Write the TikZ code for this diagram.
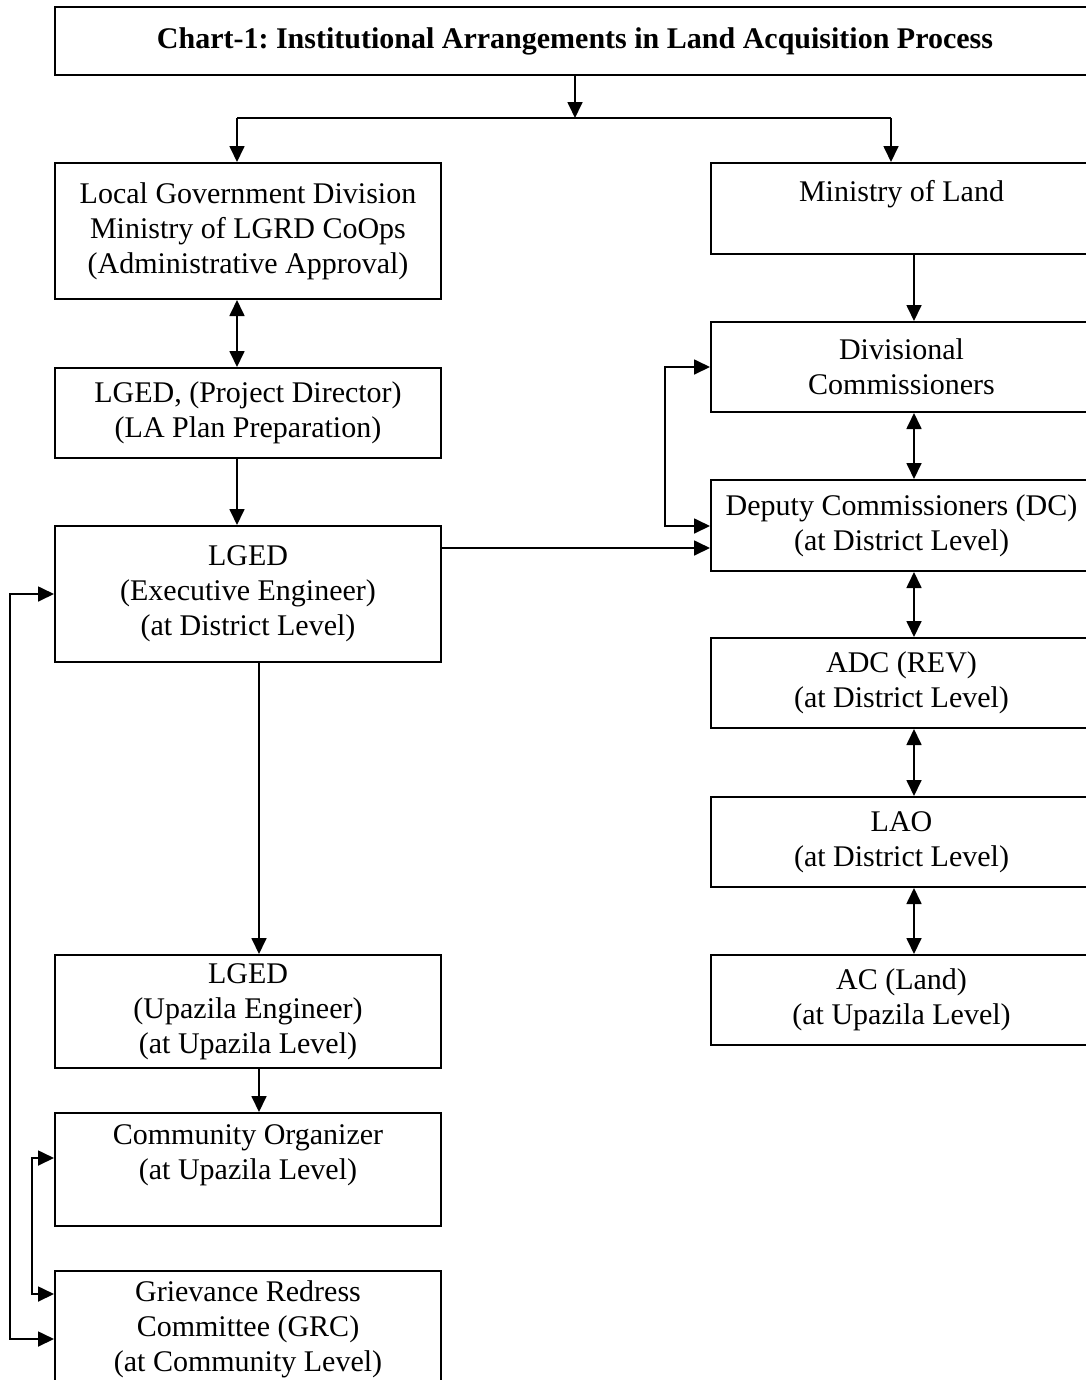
\documentclass[tikz,border=0pt]{standalone}
\usepackage{fontspec}
\setmainfont{Liberation Serif}
\usetikzlibrary{arrows.meta,calc}
\frenchspacing

\begin{document}
\begin{tikzpicture}[x=0.4pt,y=-0.4pt]
	\tikzset{box/.style={draw,line width=0.8pt,align=center,inner sep=0pt,
	    font=\fontsize{12}{14}\selectfont}}
	\tikzset{lbox/.style={box,minimum width=386*0.4pt}}
	\tikzset{rbox/.style={box,minimum width=381*0.4pt}}
	\tikzset{every path/.style={line width=0.7pt,>={Triangle[length=6.4pt,width=6pt]}}}
	\useasboundingbox (0,0) rectangle (1086,1380);

	% boxes
	\node[box,minimum width=1040*0.4pt,minimum height=68*0.4pt,font=\fontsize{12}{14}\selectfont\bfseries] (title) at (575,41) {Chart-1: Institutional Arrangements in Land Acquisition Process};
	\node[lbox,minimum height=136*0.4pt] (lgd) at (248,231) {Local Government Division\\Ministry of LGRD CoOps\\(Administrative Approval)};
	\node[lbox,minimum height=90*0.4pt] (pd) at (248,413) {LGED, (Project Director)\\(LA Plan Preparation)};
	\node[lbox,minimum height=136*0.4pt] (ee) at (248,594) {LGED\\(Executive Engineer)\\(at District Level)};
	\node[lbox,minimum height=113*0.4pt] (ue) at (248,1011.5) {LGED\\(Upazila Engineer)\\(at Upazila Level)};
	\node[lbox,minimum height=113*0.4pt] (co) at (248,1169.5) {Community Organizer\\(at Upazila Level)\\\mbox{}};
	\node[lbox,minimum height=116*0.4pt] (grc) at (248,1329) {Grievance Redress\\Committee (GRC)\\(at Community Level)};
	\node[rbox,minimum height=91*0.4pt] (mol) at (901.5,208.5) {Ministry of Land\\\mbox{}};
	\node[rbox,minimum height=90*0.4pt] (div) at (901.5,367) {Divisional\\Commissioners};
	\node[rbox,minimum height=91*0.4pt] (dc) at (901.5,525.5) {Deputy Commissioners (DC)\\(at District Level)};
	\node[rbox,minimum height=90*0.4pt] (adc) at (901.5,683) {ADC (REV)\\(at District Level)};
	\node[rbox,minimum height=90*0.4pt] (lao) at (901.5,842) {LAO\\(at District Level)};
	\node[rbox,minimum height=90*0.4pt] (acl) at (901.5,1000) {AC (Land)\\(at Upazila Level)};

	% helper points
	\coordinate (split) at (575,118);
	\coordinate (splitl) at (237,118);
	\coordinate (splitr) at (891,118);
	\coordinate (lcol) at (237,0);
	\coordinate (mcol) at (259,0);
	\coordinate (rcol) at (914,0);

	% edges
	\draw[->] (title.south) -- (split);
	\draw (splitl) -- (splitr);
	\draw[->] (splitl) -- (splitl |- lgd.north);
	\draw[->] (splitr) -- (splitr |- mol.north);
	\draw[<->] (lgd.south -| lcol) -- (pd.north -| lcol);
	\draw[->] (pd.south -| lcol) -- (ee.north -| lcol);
	\draw[->] (ee.south -| mcol) -- (ue.north -| mcol);
	\draw[->] (ue.south -| mcol) -- (co.north -| mcol);
	\draw[->] ($(ee.east)+(0,-46)$) coordinate (eeout) -- (eeout -| dc.west);
	\draw[->] (mol.south -| rcol) -- (div.north -| rcol);
	\draw[<->] (div.south -| rcol) -- (dc.north -| rcol);
	\draw[<->] (dc.south -| rcol) -- (adc.north -| rcol);
	\draw[<->] (adc.south -| rcol) -- (lao.north -| rcol);
	\draw[<->] (lao.south -| rcol) -- (acl.north -| rcol);
	\draw[<->] (div.west) -- ++(-45,0) |- ($(dc.west)+(0,0.5)$);
	\draw[<->] ($(co.west)+(0,-11.5)$) -- ++(-22,0) |- ($(grc.west)+(0,-35)$);
	\draw[<->] (ee.west) -- ++(-44,0) |- ($(grc.west)+(0,10)$);
\end{tikzpicture}
\end{document}
